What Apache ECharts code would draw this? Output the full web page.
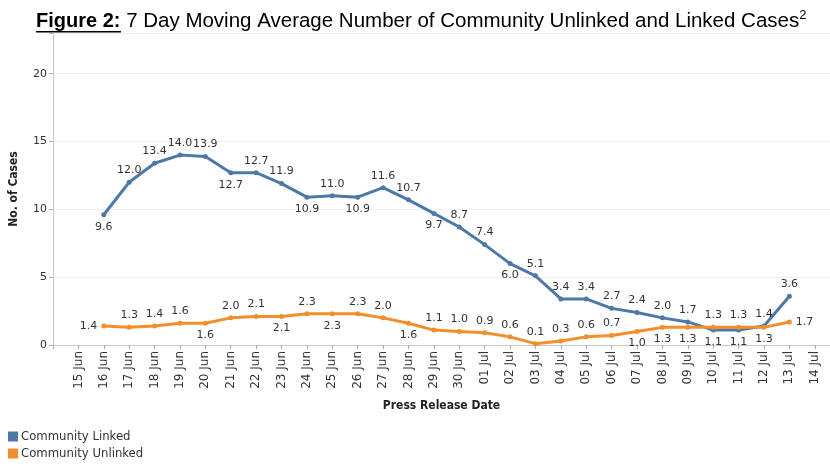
<!DOCTYPE html>
<html><head><meta charset="utf-8">
<script src="https://cdn.jsdelivr.net/npm/echarts@6/dist/echarts.min.js"></script>
<style>html,body{margin:0;padding:0;background:#fff}#c{width:830px;height:468px}</style>
</head><body><div id="c"></div>
<script>
// ---- data ----
const dates = ['15 Jun','16 Jun','17 Jun','18 Jun','19 Jun','20 Jun','21 Jun','22 Jun','23 Jun','24 Jun','25 Jun','26 Jun','27 Jun','28 Jun','29 Jun','30 Jun',
  '01 Jul','02 Jul','03 Jul','04 Jul','05 Jul','06 Jul','07 Jul','08 Jul','09 Jul','10 Jul','11 Jul','12 Jul','13 Jul','14 Jul'];
// values from 16 Jun to 13 Jul
const seriesStart = '16 Jun';
const linkedValues = [9.6,12.0,13.4,14.0,13.9,12.7,12.7,11.9,10.9,11.0,10.9,11.6,10.7,9.7,8.7,7.4,6.0,5.1,3.4,3.4,2.7,2.4,2.0,1.7,1.1,1.1,1.4,3.6];
const unlinkedValues = [1.4,1.3,1.4,1.6,1.6,2.0,2.1,2.1,2.3,2.3,2.3,2.0,1.6,1.1,1.0,0.9,0.6,0.1,0.3,0.6,0.7,1.0,1.3,1.3,1.3,1.3,1.3,1.7];
const yTickStep = 5;
const seriesNames = ['Community Linked','Community Unlinked'];

// ---- styles (label placement per point) ----
const T='top', B='bottom', L='left', R='right';
const linkedLabelPos = [B,T,T,T,T,B,T,T,B,T,B,T,T,B,T,T,B,T,T,T,T,T,T,T,B,B,T,T];
const unlinkedLabelPos = [L,T,T,T,B,T,T,B,T,B,T,T,B,T,T,T,T,T,T,T,T,B,B,B,T,T,B,R];

const start = dates.indexOf(seriesStart);
function build(vals, pos){
  return vals.map((v,i)=>({value:[start+i, v], label:{position:pos[i]}}));
}
const labelFont = {fontFamily:'DejaVu Sans', fontSize:11, color:'#333'};
const legendText = {fontFamily:'DejaVu Sans Condensed', fontSize:13, color:'#333'};

const chart = echarts.init(document.getElementById('c'), null, {renderer:'canvas'});
chart.setOption({
  animation:false,
  backgroundColor:'#fff',
  color:['#4e79a7','#f28e2b'],
  graphic:[
    {type:'text', left:36, top:9, style:{
      text:'{a|Figure 2:}{b| 7 Day Moving Average Number of Community Unlinked and Linked Cases}{s|2}',
      rich:{
        a:{fontFamily:'Liberation Sans', fontWeight:'bold', fontSize:20, fill:'#000', lineHeight:24},
        b:{fontFamily:'Liberation Sans', fontSize:20.5, fill:'#000', lineHeight:24},
        s:{fontFamily:'Liberation Sans', fontSize:13, fill:'#000', lineHeight:24, verticalAlign:'top'}
      }
    }},
    {type:'rect', shape:{x:36, y:31, width:85, height:1.5}, style:{fill:'#000'}}
  ],
  grid:{left:50, right:0, top:33, bottom:123, containLabel:false},
  legend:[
    {left:3, top:425, itemWidth:10, itemHeight:10, icon:'rect', data:[seriesNames[0]],
      itemGap:4, textStyle:Object.assign({padding:[0,0,0,-2]}, legendText)},
    {left:3, top:442, itemWidth:10, itemHeight:10, icon:'rect', data:[seriesNames[1]],
      itemGap:4, textStyle:Object.assign({padding:[0,0,0,-2]}, legendText)}
  ],
  xAxis:{
    type:'value', min:-1, max:29.6, interval:1,
    name:'Press Release Date', nameLocation:'middle', nameGap:55,
    nameTextStyle:{fontFamily:'DejaVu Sans Condensed', fontWeight:'bold', fontSize:12, color:'#222'},
    axisLine:{show:true, onZero:false, lineStyle:{color:'#c8c8c8', width:1}},
    axisTick:{show:true, length:4, lineStyle:{color:'#b0b0b0'}},
    splitLine:{show:false},
    axisLabel:{rotate:90, margin:6, fontFamily:'DejaVu Sans', fontSize:12, color:'#333',
      formatter:v=> (Number.isInteger(v) && dates[v]) ? dates[v] : ''}
  },
  yAxis:{
    type:'value', min:0, max:23, interval:yTickStep,
    name:'No. of Cases', nameLocation:'middle', nameGap:33, nameRotate:90,
    nameTextStyle:{fontFamily:'DejaVu Sans Condensed', fontWeight:'bold', fontSize:12, color:'#222'},
    axisLine:{show:true, onZero:false, lineStyle:{color:'#c8c8c8', width:1}},
    axisTick:{show:true, length:4, lineStyle:{color:'#b0b0b0'}},
    splitLine:{show:true, lineStyle:{color:'#efefef', width:1}},
    axisLabel:{margin:6, fontFamily:'DejaVu Sans', fontSize:11, color:'#333',
      formatter:v=> (v % yTickStep === 0) ? String(v) : ''}
  },
  series:[
    {name:seriesNames[0], type:'line', data:build(linkedValues, linkedLabelPos),
      symbol:'circle', symbolSize:5, lineStyle:{width:3}, z:2,
      label:Object.assign({show:true, distance:4, formatter:p=>p.value[1].toFixed(1)}, labelFont)},
    {name:seriesNames[1], type:'line', data:build(unlinkedValues, unlinkedLabelPos),
      symbol:'circle', symbolSize:5, lineStyle:{width:3}, z:3,
      label:Object.assign({show:true, distance:4, formatter:p=>p.value[1].toFixed(1)}, labelFont)}
  ]
});
</script></body></html>
